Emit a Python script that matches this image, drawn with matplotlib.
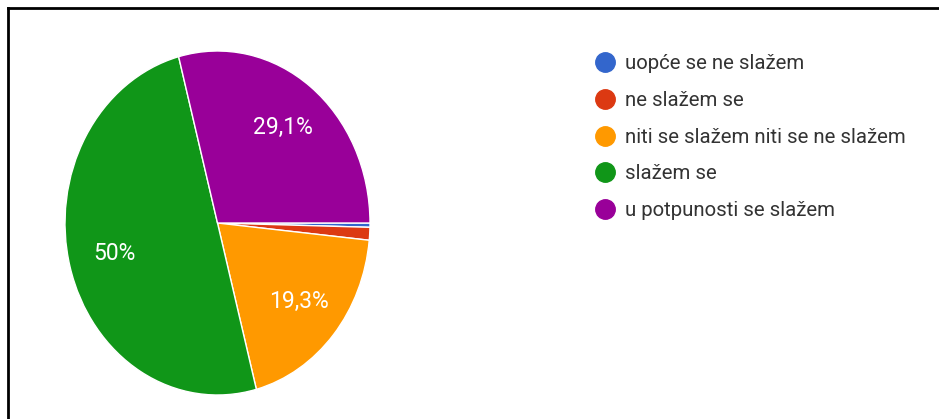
import matplotlib.pyplot as plt
from matplotlib.lines import Line2D

plt.rcParams['font.family'] = ['Roboto', 'DejaVu Sans']

labels = ['uopće se ne slažem', 'ne slažem se', 'niti se slažem niti se ne slažem',
          'slažem se', 'u potpunosti se slažem']
values = [0.4, 1.2, 19.3, 50.0, 29.1]
colors = ['#3366cc', '#dc3912', '#ff9900', '#109618', '#990099']


def fmt_pct(p):
    if p < 5:
        return ''
    s = f'{p:.1f}'.replace('.', ',')
    if s.endswith(',0'):
        s = s[:-2]
    return s + '%'


W, H = 939, 419
fig = plt.figure(figsize=(W / 100, H / 100), dpi=100)
# pie is drawn slightly taller than wide, like the original screenshot
ax = fig.add_axes([65 / W, (H - 395) / H, 305 / W, 344 / H])
wedges, texts, autotexts = ax.pie(values, colors=colors, startangle=0, counterclock=False,
                                  autopct=fmt_pct, pctdistance=0.7,
                                  wedgeprops=dict(edgecolor='white', linewidth=1))
for t in autotexts:
    t.set_color('white')
    t.set_fontsize(16.5)
ax.set_aspect('auto')
ax.set_xlim(-1, 1)
ax.set_ylim(-1, 1)

handles = [Line2D([], [], marker='o', linestyle='none', markersize=14,
                  markerfacecolor=c, markeredgecolor=c) for c in colors]
fig.legend(handles, labels, loc='upper left', bbox_to_anchor=(585 / W, 1 - 44 / H),
           frameon=False, fontsize=14.7, labelcolor='#333333', handlelength=1.0,
           handletextpad=0.45, labelspacing=0.87, borderpad=0)

# screenshot frame (left and top edges)
fig.add_artist(Line2D([8 / W, 8 / W], [0, 1 - 8.5 / H], color='black', linewidth=2))
fig.add_artist(Line2D([8 / W, 1], [1 - 8.5 / H, 1 - 8.5 / H], color='black', linewidth=2))

fig.savefig('out.png', dpi=100)
